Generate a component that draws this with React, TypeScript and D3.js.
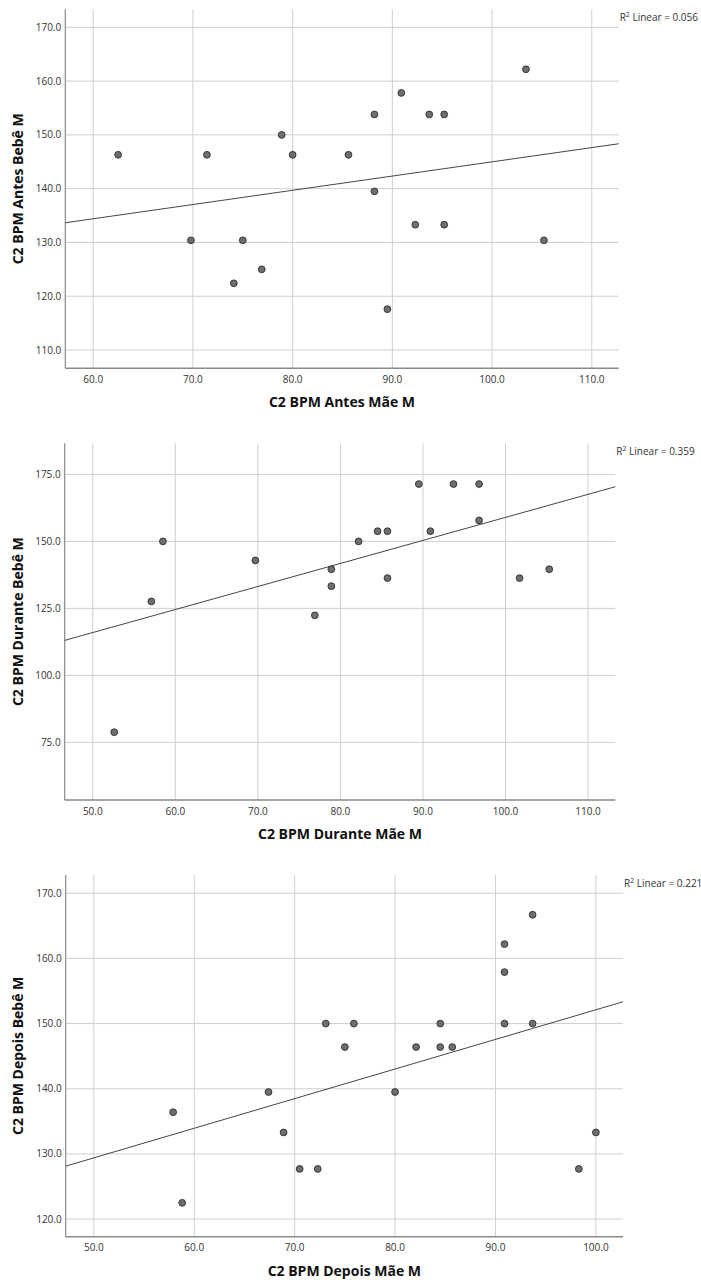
import React, { useRef, useEffect } from "react";
import * as d3 from "d3";

// Antes (before)
const antesMae = [62.5, 71.4, 69.8, 75.0, 74.1, 76.9, 78.9, 80.0, 85.6, 88.2, 88.2, 90.9, 93.7, 95.2, 92.3, 95.2, 89.5, 103.4, 105.2];
const antesBebe = [146.3, 146.3, 130.4, 130.4, 122.4, 125.0, 150.0, 146.3, 146.3, 153.8, 139.5, 157.8, 153.8, 153.8, 133.3, 133.3, 117.6, 162.2, 130.4];
const antesXTicks = [60, 70, 80, 90, 100, 110];
const antesYTicks = [110, 120, 130, 140, 150, 160, 170];
const antesFit = [118.53, 0.2646]; // intercept, slope

// Durante (during)
const duranteMae = [52.6, 57.1, 58.5, 69.7, 76.9, 78.9, 78.9, 82.2, 84.5, 85.7, 85.7, 89.5, 90.9, 93.7, 96.8, 96.8, 101.7, 105.3];
const duranteBebe = [78.8, 127.6, 150.0, 142.9, 122.4, 139.6, 133.3, 150.0, 153.8, 153.8, 136.3, 171.4, 153.8, 171.4, 171.4, 157.8, 136.3, 139.6];
const duranteXTicks = [50, 60, 70, 80, 90, 100, 110];
const duranteYTicks = [75, 100, 125, 150, 175];
const duranteFit = [72.99, 0.8597];

// Depois (after)
const depoisMae = [57.9, 58.8, 67.4, 68.9, 70.5, 72.3, 73.1, 75.0, 75.9, 80.0, 82.1, 84.5, 84.5, 85.7, 90.9, 90.9, 90.9, 93.7, 93.7, 98.3, 100.0];
const depoisBebe = [136.4, 122.5, 139.5, 133.3, 127.7, 127.7, 150.0, 146.4, 150.0, 139.5, 146.4, 150.0, 146.4, 146.4, 162.2, 157.9, 150.0, 150.0, 166.7, 127.7, 133.3];
const depoisXTicks = [50, 60, 70, 80, 90, 100];
const depoisYTicks = [120, 130, 140, 150, 160, 170];
const depoisFit = [106.67, 0.4545];

const panels = [
  {
    xs: antesMae, ys: antesBebe, xTicks: antesXTicks, yTicks: antesYTicks, fit: antesFit,
    xDomain: [57.2, 112.7], yDomain: [106.6, 173.35], r2: "0.056",
    xTitle: "C2 BPM Antes Mãe M", yTitle: "C2 BPM Antes Bebê M",
    box: { left: 65.3, right: 618.7, top: 9.3, bottom: 368.3 },
  },
  {
    xs: duranteMae, ys: duranteBebe, xTicks: duranteXTicks, yTicks: duranteYTicks, fit: duranteFit,
    xDomain: [46.6, 113.3], yDomain: [53.5, 186.6], r2: "0.359",
    xTitle: "C2 BPM Durante Mãe M", yTitle: "C2 BPM Durante Bebê M",
    box: { left: 64.7, right: 615.3, top: 443.3, bottom: 800 },
  },
  {
    xs: depoisMae, ys: depoisBebe, xTicks: depoisXTicks, yTicks: depoisYTicks, fit: depoisFit,
    xDomain: [47.2, 102.7], yDomain: [117.3, 172.8], r2: "0.221",
    xTitle: "C2 BPM Depois Mãe M", yTitle: "C2 BPM Depois Bebê M",
    box: { left: 65.7, right: 623, top: 875, bottom: 1236.7 },
  },
];

const FONT = "'Open Sans', 'DejaVu Sans', sans-serif";

const App = () => {
  const ref = useRef(null);

  useEffect(() => {
    const svg = d3.select(ref.current);
    svg.selectAll("*").remove();

    panels.forEach((p) => {
      const { left, right, top, bottom } = p.box;
      const x = d3.scaleLinear().domain(p.xDomain).range([left, right]);
      const y = d3.scaleLinear().domain(p.yDomain).range([bottom, top]);
      const g = svg.append("g");

      // grid
      g.selectAll(".vgrid")
        .data(p.xTicks)
        .join("line")
        .attr("x1", (d) => x(d))
        .attr("x2", (d) => x(d))
        .attr("y1", top)
        .attr("y2", bottom)
        .attr("stroke", "#cfcfcf")
        .attr("stroke-width", 1);
      g.selectAll(".hgrid")
        .data(p.yTicks)
        .join("line")
        .attr("x1", left)
        .attr("x2", right)
        .attr("y1", (d) => y(d))
        .attr("y2", (d) => y(d))
        .attr("stroke", "#cfcfcf")
        .attr("stroke-width", 1);

      // axes lines
      g.append("line")
        .attr("x1", left).attr("x2", left)
        .attr("y1", top).attr("y2", bottom)
        .attr("stroke", "#8a8a8a").attr("stroke-width", 1.2);
      g.append("line")
        .attr("x1", left).attr("x2", right)
        .attr("y1", bottom).attr("y2", bottom)
        .attr("stroke", "#8a8a8a").attr("stroke-width", 1.5);

      // tick labels
      g.selectAll(".ylab")
        .data(p.yTicks)
        .join("text")
        .attr("x", left - 4)
        .attr("y", (d) => y(d))
        .attr("dy", "0.35em")
        .attr("text-anchor", "end")
        .attr("font-family", FONT)
        .attr("font-size", 10)
        .attr("fill", "#333")
        .text((d) => d3.format(".1f")(d));
      g.selectAll(".xlab")
        .data(p.xTicks)
        .join("text")
        .attr("x", (d) => x(d))
        .attr("y", bottom + 11)
        .attr("dy", "0.35em")
        .attr("text-anchor", "middle")
        .attr("font-family", FONT)
        .attr("font-size", 10)
        .attr("fill", "#333")
        .text((d) => d3.format(".1f")(d));

      // fit line
      const [b0, b1] = p.fit;
      const line = d3.line().x((d) => x(d)).y((d) => y(b0 + b1 * d));
      g.append("path")
        .attr("d", line(p.xDomain))
        .attr("fill", "none")
        .attr("stroke", "#454545")
        .attr("stroke-width", 1);

      // points
      g.selectAll("circle")
        .data(p.xs.map((v, i) => [v, p.ys[i]]))
        .join("circle")
        .attr("cx", (d) => x(d[0]))
        .attr("cy", (d) => y(d[1]))
        .attr("r", 3.4)
        .attr("fill", "#6e6e6e")
        .attr("stroke", "#2f2f2f")
        .attr("stroke-width", 0.9);

      // titles
      g.append("text")
        .attr("x", (left + right) / 2)
        .attr("y", bottom + 34)
        .attr("dy", "0.35em")
        .attr("text-anchor", "middle")
        .attr("font-family", FONT)
        .attr("font-size", 14)
        .attr("font-weight", "bold")
        .attr("fill", "#111")
        .text(p.xTitle);
      g.append("text")
        .attr("transform", `translate(18, ${(top + bottom) / 2}) rotate(-90)`)
        .attr("dy", "0.35em")
        .attr("text-anchor", "middle")
        .attr("font-family", FONT)
        .attr("font-size", 14)
        .attr("font-weight", "bold")
        .attr("fill", "#111")
        .text(p.yTitle);

      // R2 label
      const r2 = g.append("text")
        .attr("x", right + 1)
        .attr("y", top + 8)
        .attr("dy", "0.35em")
        .attr("font-family", FONT)
        .attr("font-size", 10)
        .attr("fill", "#333");
      r2.append("tspan").text("R");
      r2.append("tspan").attr("font-size", 7).attr("dy", "-0.5em").text("2");
      r2.append("tspan").attr("dy", "0.35em").text(` Linear = ${p.r2}`);
    });

    return () => undefined;
  }, []);

  return (
    <svg
      ref={ref}
      width={701}
      height={1280}
      style={{ position: "absolute", left: 0, top: 0, background: "#fff" }}
    ></svg>
  );
};

export default App;
